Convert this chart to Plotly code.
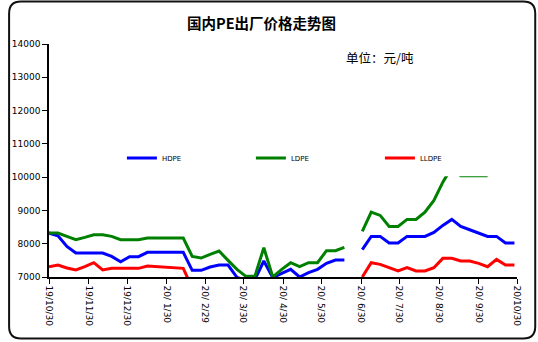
import plotly.graph_objects as go
import pandas as pd

# weekly dates
dates = pd.date_range("2019-10-30", periods=53, freq="7D")

hdpe = [8320, 8240, 7920, 7720, 7720, 7720, 7720, 7620, 7460, 7610,
        7610, 7740, 7740, 7740, 7740, 7740, 7200, 7200, 7300, 7360,
        7360, 6990, 6900, 6920, 7480, 6980, 7110, 7230, 7000, 7130,
        7230, 7410, 7510, 7510, None, 7820, 8220, 8220, 8020, 8020,
        8220, 8220, 8220, 8340, 8550, 8730, 8520, 8420, 8320, 8220,
        8220, 8020, 8020]

ldpe = [8320, 8320, 8220, 8120, 8190, 8270, 8270, 8220, 8120, 8120,
        8120, 8170, 8170, 8170, 8170, 8170, 7620, 7570, 7680, 7780,
        7500, 7230, 7020, 7020, 7880, 7000, 7230, 7430, 7310, 7430,
        7430, 7790, 7790, 7890, None, 8370, 8950, 8850, 8520, 8520,
        8730, 8730, 8950, 9300, 9850, 10300, 10045, 10045, 10045, 10045,
        None, None, None]

lldpe = [7310, 7360, 7270, 7210, 7310, 7430, 7210, 7260, 7260, 7260,
         7260, 7330, 7310, 7290, 7260, 7260, 6670, None, None, None,
         None, None, None, None, None, None, None, None, None, None,
         None, None, None, None, None, 7000, 7430, 7380, 7280, 7180,
         7280, 7180, 7180, 7280, 7560, 7560, 7480, 7480, 7410, 7310,
         7530, 7360, 7360]

tick_dates = ["2019-10-30", "2019-11-30", "2019-12-30", "2020-01-30", "2020-02-29",
              "2020-03-30", "2020-04-30", "2020-05-30", "2020-06-30", "2020-07-30",
              "2020-08-30", "2020-09-30", "2020-10-30"]
tick_text = ["19/10/30", "19/11/30", "19/12/30", "20/ 1/30", "20/ 2/29",
             "20/ 3/30", "20/ 4/30", "20/ 5/30", "20/ 6/30", "20/ 7/30",
             "20/ 8/30", "20/ 9/30", "20/10/30"]
y_ticks = [7000, 8000, 9000, 10000, 11000, 12000, 13000, 14000]
y_text = ["7000", "8000", "9000", "10000", "11000", "12000", "13000", "14000"]

series = [("HDPE", hdpe, "#0000FF"), ("LDPE", ldpe, "#008000"), ("LLDPE", lldpe, "#FF0000")]

fig = go.Figure()
for name, vals, col in series:
    fig.add_trace(go.Scatter(x=dates, y=vals, name=name, mode="lines",
                             line=dict(color=col, width=3), connectgaps=False))

W, H = 538, 342
L, R, T, B = 42, 21, 44, 65
pw, ph = W - L - R, H - T - B

def px(x):
    return (x - L) / pw

def py(y):
    return (H - B - y) / ph

def rounded_path(x0, y0, x1, y1, r):
    pts = []
    pts.append(f"M{px(x0 + r)},{py(y0)}")
    pts.append(f"L{px(x1 - r)},{py(y0)}")
    pts.append(f"Q{px(x1)},{py(y0)} {px(x1)},{py(y0 + r)}")
    pts.append(f"L{px(x1)},{py(y1 - r)}")
    pts.append(f"Q{px(x1)},{py(y1)} {px(x1 - r)},{py(y1)}")
    pts.append(f"L{px(x0 + r)},{py(y1)}")
    pts.append(f"Q{px(x0)},{py(y1)} {px(x0)},{py(y1 - r)}")
    pts.append(f"L{px(x0)},{py(y0 + r)}")
    pts.append(f"Q{px(x0)},{py(y0)} {px(x0 + r)},{py(y0)}")
    pts.append("Z")
    return " ".join(pts)

shapes = [
    dict(type="rect", xref="paper", yref="y", x0=px(118), x1=px(495), y0=10030, y1=11000,
         fillcolor="white", line=dict(width=0), layer="above"),
    dict(type="path", xref="paper", yref="paper", path=rounded_path(1.5, 1.5, 535.5, 338.5, 12),
         line=dict(color="#111111", width=2), layer="above"),
]

fig.update_layout(
    width=W, height=H,
    margin=dict(l=L, r=R, t=T, b=B),
    paper_bgcolor="white", plot_bgcolor="white",
    showlegend=True,
    legend=dict(orientation="h", x=px(116), xanchor="left", y=py(158), yanchor="middle",
                bgcolor="rgba(0,0,0,0)", font=dict(family="DejaVu Sans", size=7, color="#000000"),
                entrywidth=84, entrywidthmode="pixels", itemwidth=30, tracegroupgap=0),
    shapes=shapes,
    annotations=[
        dict(text="<b>国内PE出厂价格走势图</b>", xref="paper", yref="paper", x=px(258), y=py(22),
             xanchor="center", yanchor="middle", showarrow=False,
             font=dict(family="Noto Sans CJK SC", size=14.5, color="#000000")),
        dict(text="单位：元/吨", xref="paper", yref="paper", x=px(378), y=py(57),
             xanchor="center", yanchor="middle", showarrow=False,
             font=dict(family="Noto Sans CJK SC", size=12.5, color="#000000")),
    ],
    xaxis=dict(type="date", range=["2019-10-30", "2020-10-30"], tickvals=tick_dates, ticktext=tick_text,
               tickangle=90, showgrid=False, zeroline=False, showline=True, linecolor="#000000", linewidth=1.5,
               ticks="outside", ticklen=5, tickcolor="#000000", tickwidth=1,
               tickfont=dict(family="DejaVu Sans", size=9, color="#000000")),
    yaxis=dict(range=[7000, 14000], tickvals=y_ticks, ticktext=y_text, showgrid=False, zeroline=False,
               showline=True, linecolor="#000000", linewidth=1.5,
               ticks="outside", ticklen=5, tickcolor="#000000", tickwidth=1,
               tickfont=dict(family="DejaVu Sans", size=9, color="#000000")),
)

fig.write_html("out.html")
